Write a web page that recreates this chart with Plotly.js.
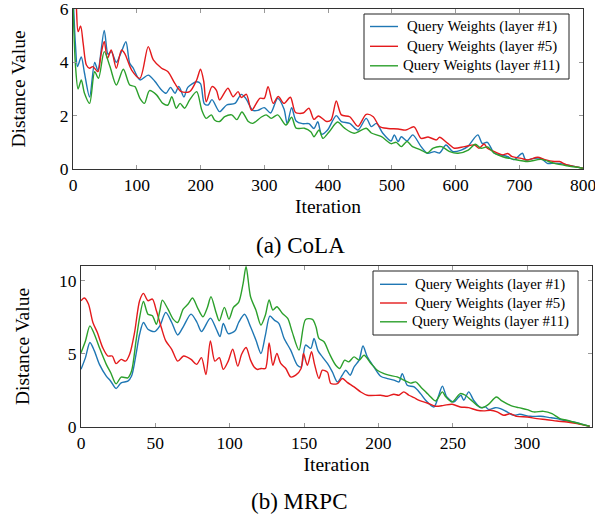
<!DOCTYPE html>
<html>
<head>
<meta charset="utf-8">
<script src="https://cdn.plot.ly/plotly-3.0.1.min.js"></script>
<style>html,body{margin:0;padding:0;background:#fff;}#chart{width:595px;height:517px;}</style>
</head>
<body>
<div id="chart"></div>
<script>
// ---------- (a) CoLA ----------
const colaL1X = [0,4,7,13,18,26,34,39,49,55,60,68,76,83,89,94,105,118,128,139,146,153,160,166,174,180,194,200,206,212,218,230,241,254,264,271,282,290,300,310,321,331,336,343,350,360,370,378,384,390,399,413,421,434,447,460,468,476,486,499,504,510,515,524,533,546,556,567,575,585,596,609,619,635,642,650,661,671,682,692,705,710,723,734,744,755,765,775,790,800];
const colaL1Y = [6.6,4.6,3.84,4.2,3.6,2.7,4.0,3.7,5.2,4.3,4.4,4.0,4.4,4.77,3.96,3.8,3.34,3.52,3.3,2.96,2.84,3.06,2.84,3.1,2.7,3.06,3.27,3.2,2.45,2.4,2.6,2.15,2.4,2.46,2.8,2.65,2.2,2.2,2.3,2.1,2.65,2.25,1.7,2.3,1.8,1.7,1.7,1.52,1.77,1.3,1.45,2.0,1.78,1.71,1.46,1.9,1.59,1.71,1.34,1.05,1.28,1.03,1.21,1.05,1.28,0.84,0.59,0.65,0.6,0.9,0.65,0.71,0.84,1.28,0.96,1.0,0.59,0.53,0.46,0.35,0.59,0.34,0.4,0.4,0.21,0.22,0.2,0.15,0.08,0.03];

const colaL5X = [0,5,8,12,16,21,26,31,39,44,49,54,60,68,76,81,92,105,118,126,139,149,160,170,183,194,200,205,209,218,225,230,243,251,259,264,272,280,293,300,306,314,322,331,341,349,361,370,378,385,398,405,413,421,434,447,460,471,481,494,510,522,535,546,557,570,575,588,598,614,630,637,645,650,661,674,682,689,703,713,729,739,755,763,775,790,800];
const colaL5Y = [7.5,6.2,5.15,5.36,4.7,3.9,3.78,3.84,3.65,4.3,4.78,4.15,4.46,3.78,4.46,4.34,3.71,3.4,4.59,4.09,3.78,3.65,3.2,2.9,2.9,3.34,3.74,3.3,2.52,3.09,2.95,2.59,3.03,2.71,2.9,2.68,2.8,2.2,2.65,2.65,3.09,2.46,2.72,2.46,2.69,2.12,2.1,2.28,1.86,1.99,1.78,1.85,2.55,2.03,1.96,1.6,2.05,1.96,1.59,1.52,1.5,1.46,1.58,1.15,1.2,1.09,1.19,0.96,0.78,0.84,0.9,0.78,0.94,0.78,0.65,0.53,0.58,0.46,0.4,0.34,0.44,0.36,0.28,0.28,0.15,0.08,0.03];

const colaL11X = [0,4,8,13,18,26,34,40,49,58,68,79,89,97,105,112,120,131,141,149,155,162,168,175,183,194,202,209,217,222,230,238,249,257,265,275,282,295,303,311,321,334,343,350,363,373,378,386,392,402,415,426,441,460,468,484,499,507,515,524,532,546,556,565,578,591,604,620,631,640,650,661,674,692,713,734,755,775,800];
const colaL11Y = [6.2,3.84,3.0,3.34,2.84,2.46,3.65,3.4,4.4,3.84,3.15,3.74,3.15,3.09,2.65,2.46,2.94,2.78,2.46,2.4,2.71,2.28,2.46,2.28,2.59,2.9,2.21,1.9,2.03,1.84,1.78,1.96,2.03,1.85,2.14,1.78,1.71,1.94,2.03,1.9,2.03,1.65,1.94,1.53,1.53,1.4,1.21,1.46,1.15,1.4,1.76,1.53,1.34,1.53,1.35,1.21,0.95,1.0,0.84,1.03,0.85,0.71,0.6,0.78,0.84,0.65,0.59,0.71,0.93,0.78,0.83,0.59,0.46,0.36,0.28,0.36,0.21,0.12,0.03];

// ---------- (b) MRPC ----------
const mrpcL1X = [0,3,6,9,12.4,17,20,23.6,27,31.5,34,37,39.4,42,45,49.5,53,57,61,65,69,74,78,81,87,91,93.5,95.7,99,103.6,106,110,114,117.6,121,124,127,130,133,136.6,141,145.5,148,151,154.5,156.7,159.4,162.3,165.7,169,172.4,175.7,178,181,183.6,187,189.6,192.5,197,201.5,206,210.4,213.8,216,219.4,224,228.3,231.7,237.3,240.6,243,246,250.7,254,255.5,257.4,260.7,264,268.6,272,274,278.6,282,286.5,291,295,302,309,315.5,320,324.5,331,335.7,342];
const mrpcL1Y = [3.94,4.74,5.77,5.2,4.28,3.48,3.13,2.63,3.02,3.13,3.48,4.97,6.34,7.14,6.68,6.52,6.91,7.83,7.14,6.29,6.9,7.71,7.14,6.52,7.44,6.68,6.18,7.07,6.38,6.57,7.14,7.7,6.85,5.94,5.02,6.28,7.58,7.3,7.08,6.05,5.25,4.22,4.1,5.6,5.37,6.05,5.2,4.79,4.34,3.77,3.08,3.54,3.88,3.54,4.1,4.57,5.53,4.79,4.1,3.47,3.31,3.2,3.08,3.65,2.85,2.74,2.28,1.83,1.37,2.17,2.79,2.05,1.71,2.05,2.17,1.83,2.4,1.83,1.32,1.37,1.2,1.32,1.26,1.03,0.8,0.87,0.73,0.73,0.64,0.57,0.46,0.34,0.23,0.05];

const mrpcL5X = [0,2.3,5,8,11,14.6,18,21,23.6,27,30,32.7,36,39.4,42,45,48,50.7,54,57,61,65,69,74,77.7,81,84,87,90,93,95.7,99,102,105.4,108,111,114,116.4,118.7,121,124,126.5,129,131.7,134.3,137.7,141,144.4,148,149.6,152.2,155,157,160,162.3,165.7,168,172.4,175.7,179,183.6,188,192.5,201.5,206,210.4,213.8,217,220.5,224,227,232.8,238.4,244,249.6,255,260.7,266.3,270.8,275.3,279.8,284.2,288.7,293,300,306.6,313.3,320,326.7,333.5,342];
const mrpcL5Y = [8.63,8.81,8.4,7.14,6.45,5.42,4.85,4.85,4.33,4.62,4.5,4.97,6.45,8.63,9.13,8.63,8.74,7.94,6.8,5.88,5.31,4.5,4.85,4.62,4.28,4.74,3.59,5.88,4.5,4.74,3.94,4.5,5.31,4.16,4.97,5.43,4.57,4.1,3.93,4.0,4.0,5.75,4.22,5.02,4.34,4.0,3.42,3.54,4.0,5.02,4.22,5.14,4.3,3.31,3.88,3.75,2.97,2.97,3.31,3.05,2.74,2.4,2.17,2.17,2.1,2.24,2.17,2.4,2.17,2.0,1.83,1.64,1.42,1.48,1.55,1.37,1.32,1.14,1.1,1.14,1.03,0.8,0.91,0.73,0.68,0.57,0.5,0.41,0.34,0.23,0.05];

const mrpcL11X = [0,3,6,9,12.4,17,20,23.6,27,31.5,34,37,39.4,42,45,48,50.7,53,54.7,58.5,62,65,68.7,72,75,78.8,82,85,87.4,90.8,93,96.4,99.5,102.5,106,109,111,114,117.6,121,124,126.5,129,131.7,135.5,139,142,146.6,151,155.6,158,160,163.4,167,171.3,174,177.3,180,183.6,187,190.3,195,199.2,203.7,207,212.6,217,221.6,225,229.4,234,238.4,243,245,249.6,255,258.5,262,266.3,269.7,274,279.3,283,288.7,294.3,300,304.4,311,316.7,322,326.7,333.5,342];
const mrpcL11Y = [5.08,5.88,6.91,6.34,5.42,4.28,3.71,2.95,3.41,3.36,3.82,5.88,7.48,8.58,7.71,7.6,7.02,7.94,8.67,8.05,7.37,7.14,8.05,8.4,8.81,8.05,7.53,8.17,8.9,7.83,7.25,8.17,7.37,8.17,8.51,9.8,10.96,8.9,7.99,6.96,7.65,8.68,7.99,8.22,7.76,7.42,6.5,5.25,7.35,7.35,6.85,6.05,5.82,5.02,4.22,4.0,4.57,4.45,4.79,4.57,4.9,4.34,3.88,3.65,3.54,3.42,3.2,3.0,3.08,2.63,2.17,1.78,2.4,2.1,1.71,2.28,2.17,1.87,1.48,1.32,1.55,2.05,1.78,1.48,1.32,1.19,1.03,1.07,0.91,0.57,0.46,0.27,0.05];

const seriesNames = ['Query Weights (layer #1)', 'Query Weights (layer #5)', 'Query Weights (layer #11)'];
const seriesColors = ['#1f77b4', '#e41a1c', '#2ca02c'];
const colaTicks = [0,100,200,300,400,500,600,700,800];
const colaYTicks = [0,2,4,6];
const mrpcTicks = [0,50,100,150,200,250,300];
const mrpcYTicks = [0,5,10];
const captions = ['(a) CoLA', '(b) MRPC'];

const FONT = 'Liberation Serif';
const W = 595, H = 517;
const px = v => v / W;          // pixel x -> paper
const py = v => 1 - v / H;      // pixel y (from top) -> paper

function mk(x, y, i, xa, ya) {
  return {
    x: x, y: y, type: 'scatter', mode: 'lines',
    name: seriesNames[i], showlegend: false,
    line: {color: seriesColors[i], width: 1.4, shape: 'spline', smoothing: 0.8},
    xaxis: xa, yaxis: ya, hoverinfo: 'skip'
  };
}

const traces = [
  mk(colaL1X, colaL1Y, 0, 'x', 'y'),
  mk(colaL5X, colaL5Y, 1, 'x', 'y'),
  mk(colaL11X, colaL11Y, 2, 'x', 'y'),
  mk(mrpcL1X, mrpcL1Y, 0, 'x2', 'y2'),
  mk(mrpcL5X, mrpcL5Y, 1, 'x2', 'y2'),
  mk(mrpcL11X, mrpcL11Y, 2, 'x2', 'y2')
];

function axis(extra, titleText, standoff) {
  return Object.assign({
    showline: true, linecolor: '#333', linewidth: 1, mirror: 'ticks',
    ticks: 'inside', ticklen: 4, tickcolor: '#999', tickwidth: 1,
    showgrid: false, zeroline: false, automargin: false,
    ticklabeloverflow: 'allow',
    tickfont: {family: FONT, size: 17.5, color: '#000'},
    title: {text: titleText, standoff: standoff, font: {family: FONT, size: 19.5, color: '#000'}}
  }, extra);
}

const layout = {
  width: W, height: H,
  margin: {l: 0, r: 0, t: 0, b: 0},
  paper_bgcolor: '#fff', plot_bgcolor: '#fff',
  showlegend: false,
  xaxis: axis({domain: [px(73), px(583)], anchor: 'y', range: [0, 800], tickvals: colaTicks, ticktext: colaTicks.map(String)}, 'Iteration', 5),
  yaxis: axis({domain: [py(169), py(9)], anchor: 'x', range: [0, 6], tickvals: colaYTicks, ticktext: colaYTicks.map(String)}, 'Distance Value', 28),
  xaxis2: axis({domain: [px(81), px(592)], anchor: 'y2', range: [0, 343.6], tickvals: mrpcTicks, ticktext: mrpcTicks.map(String)}, 'Iteration', 5),
  yaxis2: axis({domain: [py(427), py(266)], anchor: 'x2', range: [0, 11], tickvals: mrpcYTicks, ticktext: mrpcYTicks.map(String)}, 'Distance Value', 24),
  shapes: [],
  annotations: [
    {text: captions[0], xref: 'paper', yref: 'paper', x: px(300), y: py(245), xanchor: 'center', yanchor: 'middle', showarrow: false, font: {family: FONT, size: 23, color: '#000'}},
    {text: captions[1], xref: 'paper', yref: 'paper', x: px(299), y: py(501), xanchor: 'center', yanchor: 'middle', showarrow: false, font: {family: FONT, size: 23, color: '#000'}}
  ]
};

// framed key in each panel
const legendBoxes = [
  {x0: 364, x1: 569, y0: 14, y1: 79, lx0: 370, lx1: 398, tx: [405.5, 405.5, 401.5], rows: [26.5, 46.3, 65.8]},
  {x0: 373, x1: 578, y0: 271, y1: 335, lx0: 380, lx1: 407, tx: [414, 414, 410.5], rows: [284.3, 303, 321.8]}
];
legendBoxes.forEach(b => {
  layout.shapes.push({type: 'rect', xref: 'paper', yref: 'paper', x0: px(b.x0), x1: px(b.x1), y0: py(b.y1), y1: py(b.y0),
    line: {color: '#222', width: 1}, fillcolor: '#fff', layer: 'above'});
  b.rows.forEach((ry, i) => {
    layout.shapes.push({type: 'line', xref: 'paper', yref: 'paper', x0: px(b.lx0), x1: px(b.lx1), y0: py(ry), y1: py(ry),
      line: {color: seriesColors[i], width: 1.4}, layer: 'above'});
    layout.annotations.push({text: seriesNames[i], xref: 'paper', yref: 'paper', x: px(b.tx[i]), y: py(ry),
      xanchor: 'left', yanchor: 'middle', showarrow: false, borderpad: 0,
      font: {family: FONT, size: 14.8, color: '#000'}});
  });
});

Plotly.newPlot('chart', traces, layout, {staticPlot: true, displayModeBar: false});
</script>
</body>
</html>
